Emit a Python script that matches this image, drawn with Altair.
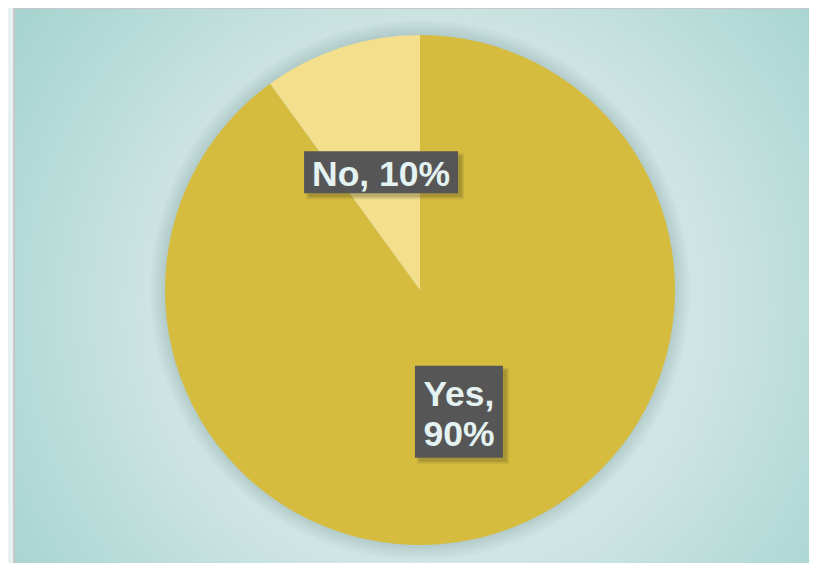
import altair as alt
import pandas as pd

# ---- data ----
categories = ["Yes", "No"]
values = [90, 10]
labels = ["Yes,\n90%", "No, 10%"]
order_idx = [0, 1]
colors = ["#D6BC3E", "#F4DF8C"]

# ---- layout (not data) ----
CX, CY, R = 412, 282, 255
LABEL_R = 126
LINE_H = 40
box_w = {"Yes": 88, "No": 154}
box_h = {"Yes": 92, "No": 42}

df = pd.DataFrame({
    "category": categories,
    "value": values,
    "label": labels,
    "idx": order_idx,
    "bw": [box_w[c] for c in categories],
    "bh": [box_h[c] for c in categories],
})

one = pd.DataFrame({"a": [0]})

bg = alt.Chart(one).mark_rect(
    fill=alt.RadialGradient(
        gradient="radial",
        x1=0.506, y1=0.5, r1=0, x2=0.506, y2=0.5, r2=0.72,
        stops=[
            alt.GradientStop(offset=0.0, color="#DBECEB"),
            alt.GradientStop(offset=0.45, color="#CFE5E3"),
            alt.GradientStop(offset=0.7, color="#B5DAD7"),
            alt.GradientStop(offset=1.0, color="#98CDC8"),
        ],
    ),
    stroke="#C8C8C8", strokeWidth=2,
).encode(x=alt.value(6), x2=alt.value(830), y=alt.value(0), y2=alt.value(600))

halo = alt.Chart(one).mark_arc(
    x=CX, y=CY, radius=R + 16,
    fill=alt.RadialGradient(
        gradient="radial",
        x1=0.5, y1=0.5, r1=0, x2=0.5, y2=0.5, r2=0.5,
        stops=[
            alt.GradientStop(offset=0.0, color="rgba(50,90,90,0.3)"),
            alt.GradientStop(offset=0.93, color="rgba(50,90,90,0.22)"),
            alt.GradientStop(offset=1.0, color="rgba(50,90,90,0)"),
        ],
    ),
).encode(theta=alt.value(0), theta2=alt.value(6.2832))

pie = alt.Chart(df).mark_arc(x=CX, y=CY, radius=R).encode(
    theta=alt.Theta("value:Q", stack=True),
    color=alt.Color("category:N", scale=alt.Scale(domain=categories, range=colors), legend=None),
    order=alt.Order("idx:Q"),
)

lab = alt.Chart(df).transform_joinaggregate(
    total="sum(value)"
).transform_window(
    cum="sum(value)", sort=[alt.SortField("idx")], frame=[None, 0]
).transform_calculate(
    mid="(datum.cum - datum.value/2)/datum.total*2*PI",
    nl="length(split(datum.label, '\\n'))",
).transform_calculate(
    lx=f"{CX} + {LABEL_R}*sin(datum.mid)",
    ly=f"{CY} - {LABEL_R}*cos(datum.mid) + 2",
).transform_calculate(
    ty=f"datum.ly - (datum.nl - 1)*{LINE_H}/2 + 3",
    x1="datum.lx - datum.bw/2", x2="datum.lx + datum.bw/2",
    y1="datum.ly - datum.bh/2", y2="datum.ly + datum.bh/2",
    sx1="datum.lx - datum.bw/2 + 4", sx2="datum.lx + datum.bw/2 + 4",
    sy1="datum.ly - datum.bh/2 + 4", sy2="datum.ly + datum.bh/2 + 4",
    tx1="datum.lx - datum.bw/2 + 2", tx2="datum.lx + datum.bw/2 + 6",
    ty1="datum.ly - datum.bh/2 + 2", ty2="datum.ly + datum.bh/2 + 6",
)

shadow2 = lab.mark_rect(fill="#3A3A20", opacity=0.12).encode(
    x=alt.X("tx1:Q", scale=None), x2="tx2:Q",
    y=alt.Y("ty1:Q", scale=None), y2="ty2:Q",
)
shadow = lab.mark_rect(fill="#3A3A20", opacity=0.2).encode(
    x=alt.X("sx1:Q", scale=None), x2="sx2:Q",
    y=alt.Y("sy1:Q", scale=None), y2="sy2:Q",
)
box = lab.mark_rect(fill="#565656").encode(
    x=alt.X("x1:Q", scale=None), x2="x2:Q",
    y=alt.Y("y1:Q", scale=None), y2="y2:Q",
)
text = lab.mark_text(
    font="Liberation Sans", fontWeight="bold", fontSize=35.5, color="#E4F2F2",
    lineBreak="\n", lineHeight=LINE_H, align="center", baseline="middle",
).encode(
    x=alt.X("lx:Q", scale=None), y=alt.Y("ty:Q", scale=None), text="label:N",
)

chart = alt.layer(bg, halo, pie, shadow2, shadow, box, text).properties(
    width=801, height=555, padding=0,
    autosize=alt.AutoSizeParams(type="none"),
    background="#E6F1F1",
).configure_view(stroke=None)

chart.save("out.html", embed_options={"renderer": "svg", "actions": False})
